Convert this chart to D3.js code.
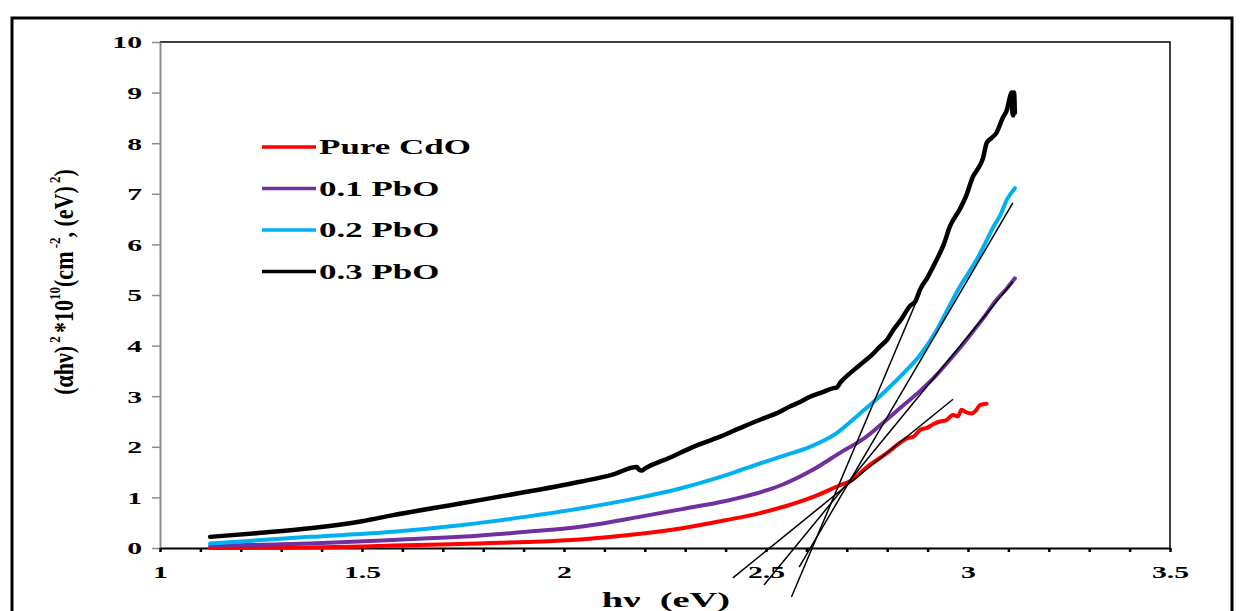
<!DOCTYPE html>
<html>
<head>
<meta charset="utf-8">
<script src="https://cdn.jsdelivr.net/npm/d3@7"></script>
<style>
  body { margin: 0; background: #fff; }
  svg { display: block; }
  text { font-family: "Liberation Serif", "Times New Roman", serif; }
</style>
</head>
<body>
<div id="chart"></div>
<script>
// series data (hv in eV, (ahv)^2 in 1e10 units)
const hvPure = [1.124, 1.25, 1.371, 1.5, 1.577, 1.743, 1.908, 2.04, 2.19, 2.3, 2.4, 2.485, 2.55, 2.62, 2.683, 2.708, 2.75, 2.8, 2.832, 2.85, 2.865, 2.881, 2.9, 2.915, 2.931, 2.945, 2.963, 2.975, 2.984, 2.996, 3.009, 3.021, 3.03, 3.046];
const valPure = [0.0, 0.005, 0.01, 0.03, 0.05, 0.08, 0.12, 0.17, 0.28, 0.4, 0.55, 0.69, 0.83, 1.02, 1.24, 1.32, 1.6, 1.88, 2.08, 2.17, 2.2, 2.33, 2.38, 2.45, 2.5, 2.52, 2.63, 2.6, 2.73, 2.68, 2.66, 2.73, 2.83, 2.85];

const hvPb1 = [1.124, 1.371, 1.577, 1.743, 1.908, 2.04, 2.19, 2.3, 2.4, 2.485, 2.543, 2.617, 2.691, 2.74, 2.779, 2.837, 2.881, 2.92, 2.955, 2.99, 3.021, 3.045, 3.07, 3.095, 3.116];
const valPb1 = [0.04, 0.09, 0.16, 0.22, 0.32, 0.42, 0.62, 0.78, 0.93, 1.1, 1.26, 1.55, 1.92, 2.15, 2.4, 2.8, 3.1, 3.4, 3.72, 4.05, 4.37, 4.62, 4.9, 5.12, 5.33];

const hvPb2 = [1.124, 1.371, 1.577, 1.743, 1.908, 2.04, 2.19, 2.28, 2.361, 2.42, 2.485, 2.55, 2.609, 2.675, 2.733, 2.79, 2.84, 2.881, 2.922, 2.95, 2.98, 3.0, 3.021, 3.04, 3.063, 3.08, 3.096, 3.116];
const valPb2 = [0.09, 0.22, 0.32, 0.45, 0.62, 0.78, 1.0, 1.16, 1.34, 1.49, 1.67, 1.84, 2.0, 2.27, 2.66, 3.06, 3.45, 3.81, 4.3, 4.72, 5.17, 5.42, 5.69, 5.98, 6.35, 6.58, 6.88, 7.11];

const hvPb3 = [1.124, 1.25, 1.371, 1.5, 1.577, 1.743, 1.908, 2.04, 2.12, 2.18, 2.186, 2.192, 2.2, 2.26, 2.32, 2.38, 2.444, 2.49, 2.526, 2.56, 2.58, 2.609, 2.64, 2.667, 2.675, 2.685, 2.691, 2.733, 2.76, 2.782, 2.8, 2.815, 2.835, 2.856, 2.87, 2.881, 2.9, 2.922, 2.94, 2.955, 2.98, 2.995, 3.013, 3.025, 3.037, 3.046, 3.058, 3.07, 3.087, 3.096, 3.104, 3.108, 3.11, 3.112, 3.114, 3.116];
const valPb3 = [0.22, 0.3, 0.39, 0.53, 0.65, 0.88, 1.11, 1.31, 1.45, 1.6, 1.55, 1.53, 1.57, 1.78, 2.0, 2.18, 2.4, 2.55, 2.66, 2.8, 2.87, 2.99, 3.08, 3.16, 3.17, 3.28, 3.33, 3.62, 3.8, 3.98, 4.12, 4.31, 4.52, 4.78, 4.88, 5.1, 5.35, 5.69, 6.0, 6.35, 6.7, 6.95, 7.35, 7.5, 7.7, 8.0, 8.1, 8.2, 8.52, 8.65, 8.92, 9.0, 8.6, 8.55, 9.0, 8.6];

const seriesNames = ["Pure CdO", "0.1 PbO", "0.2 PbO", "0.3 PbO"];
const seriesColors = ["#ff0000", "#7030a0", "#00b0f0", "#000000"];

// straight extrapolation lines (start, end)
const tangentPure = [[2.418, -0.59], [2.963, 2.94]];
const tangentPb1 = [[2.495, -0.73], [3.111, 5.26]];
const tangentPb2 = [[2.582, -0.38], [3.111, 6.82]];
const tangentPb3 = [[2.563, -0.97], [2.881, 5.04]];

const xTicks = d3.range(10, 36).map(d => d / 10);
const yTicks = d3.range(0, 11);

const W = 1240, H = 611;
const STRETCH = 1.75; // the original picture is stretched sideways

let svg = d3.select("#chart").append("svg")
    .attr("width", W)
    .attr("height", H);

// outer frame
svg.append("rect")
    .attr("x", 12).attr("y", 18)
    .attr("width", 1220).attr("height", 640)
    .attr("fill", "none")
    .attr("stroke", "#000")
    .attr("stroke-width", 3);

let x = d3.scaleLinear().domain([1, 3.5]).range([160, 1170]);
let y = d3.scaleLinear().domain([0, 10]).range([548, 42]);

// plot area top/right border
svg.append("path")
    .attr("d", "M" + x(1) + "," + y(10) + "H" + x(3.5) + "V" + y(0))
    .attr("fill", "none")
    .attr("stroke", "#000")
    .attr("stroke-width", 1.5);

// y axis
let yAxis = svg.append("g")
    .attr("transform", "translate(" + x(1) + ",0)")
    .call(d3.axisLeft(y).tickValues(yTicks).tickSize(8).tickSizeOuter(0));
yAxis.select(".domain").attr("stroke", "#8c8c8c").attr("stroke-width", 2);
yAxis.selectAll(".tick line").attr("stroke", "#8c8c8c").attr("stroke-width", 1.5);
yAxis.selectAll(".tick text")
    .attr("x", -18 / STRETCH)
    .attr("dy", "0.35em")
    .attr("transform", "scale(" + STRETCH + ",1)")
    .attr("font-size", 17)
    .attr("font-weight", "bold")
    .attr("font-family", "Liberation Serif")
    .attr("fill", "#000");

// x axis
let fmtX = d => (Math.abs(d * 2 - Math.round(d * 2)) < 1e-6) ? String(+d.toFixed(1)) : "";
let xAxis = svg.append("g")
    .attr("transform", "translate(0," + y(0) + ")")
    .call(d3.axisBottom(x).tickValues(xTicks).tickFormat(fmtX).tickSize(4).tickSizeOuter(0));
xAxis.select(".domain").attr("stroke", "#000").attr("stroke-width", 2);
xAxis.selectAll(".tick line").attr("stroke", "#000").attr("stroke-width", 2.5);
xAxis.selectAll(".tick text")
    .attr("y", 30)
    .attr("dy", 0)
    .attr("transform", "scale(" + STRETCH + ",1)")
    .attr("font-size", 17)
    .attr("font-weight", "bold")
    .attr("font-family", "Liberation Serif")
    .attr("fill", "#000");

// curves
let line = d3.line()
    .x(d => x(d[0]))
    .y(d => y(d[1]))
    .curve(d3.curveMonotoneX);

let seriesData = [
    d3.zip(hvPure, valPure),
    d3.zip(hvPb1, valPb1),
    d3.zip(hvPb2, valPb2),
    d3.zip(hvPb3, valPb3)
];

seriesData.forEach((pts, i) => {
    svg.append("path")
        .datum(pts)
        .attr("d", line)
        .attr("fill", "none")
        .attr("stroke", seriesColors[i])
        .attr("stroke-width", i == 3 ? 4.5 : 4)
        .attr("stroke-linejoin", "round")
        .attr("stroke-linecap", "round");
});

// extrapolation lines
let straight = d3.line().x(d => x(d[0])).y(d => y(d[1]));
[tangentPure, tangentPb1, tangentPb2, tangentPb3].forEach(t => {
    svg.append("path")
        .attr("d", straight(t))
        .attr("stroke", "#000")
        .attr("stroke-width", 1.5)
        .attr("fill", "none");
});

// legend
let legend = svg.append("g");
seriesNames.forEach((name, i) => {
    let ly = 147 + i * 41.5;
    legend.append("line")
        .attr("x1", 262).attr("x2", 316)
        .attr("y1", ly).attr("y2", ly)
        .attr("stroke", seriesColors[i])
        .attr("stroke-width", 3.5);
    legend.append("text")
        .attr("transform", "translate(319," + (ly + 7) + ") scale(" + STRETCH + ",1)")
        .attr("font-size", 20)
        .attr("font-weight", "bold")
        .text(name);
});

// axis titles
svg.append("text")
    .attr("transform", "translate(666,607) scale(" + STRETCH + ",1)")
    .attr("text-anchor", "middle")
    .attr("font-size", 22)
    .attr("font-weight", "bold")
    .text("h\u03bd\u00a0\u00a0(eV)");

let yTitle = svg.append("text")
    .attr("transform", "translate(73,282) scale(1.2,1) rotate(-90)")
    .attr("text-anchor", "middle")
    .attr("font-size", 22)
    .attr("font-weight", "bold");
yTitle.append("tspan").text("(\u03b1h\u03bd)");
yTitle.append("tspan").attr("dy", -11).attr("font-size", 13).text("\u00a02\u00a0");
yTitle.append("tspan").attr("dy", 11).text("*10");
yTitle.append("tspan").attr("dy", -11).attr("font-size", 13).text("10");
yTitle.append("tspan").attr("dy", 11).text("(cm");
yTitle.append("tspan").attr("dy", -11).attr("font-size", 13).text("\u00a0-2");
yTitle.append("tspan").attr("dy", 11).text(", (eV)");
yTitle.append("tspan").attr("dy", -11).attr("font-size", 13).text("\u00a02");
yTitle.append("tspan").attr("dy", 11).text(")");
</script>
</body>
</html>
